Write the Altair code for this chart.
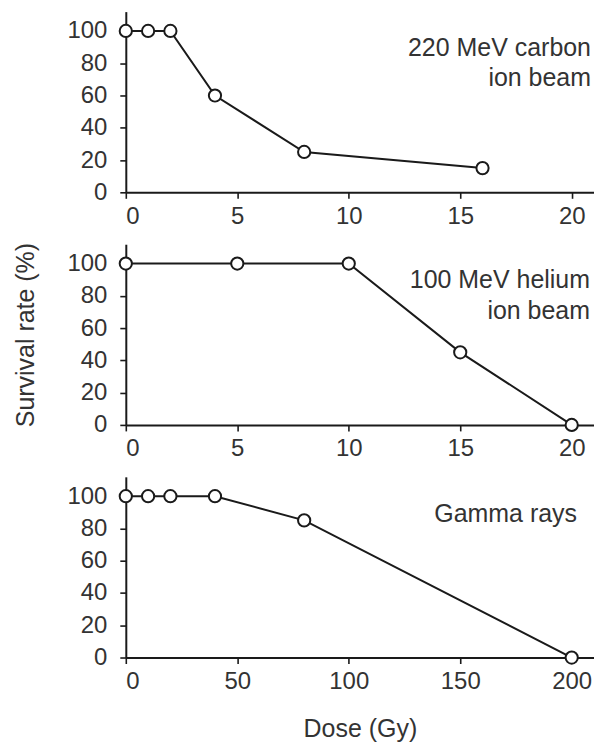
import altair as alt
import pandas as pd

# ---- data ----
carbon_dose = [0, 1, 2, 4, 8, 16]
carbon_surv = [100, 100, 100, 60, 25, 15]
helium_dose = [0, 5, 10, 15, 20]
helium_surv = [100, 100, 100, 45, 0]
gamma_dose = [0, 10, 20, 40, 80, 200]
gamma_surv = [100, 100, 100, 100, 85, 0]

carbon_label = ["220 MeV carbon", "ion beam"]
helium_label = ["100 MeV helium", "ion beam"]
gamma_label = ["Gamma rays"]

x_ticks_ion = [0, 5, 10, 15, 20]
x_ticks_gamma = [0, 50, 100, 150, 200]
y_ticks = [0, 20, 40, 60, 80, 100]

FONT = "Liberation Sans"
W = 469
H = 181
INK = "#1a1a1a"
TXT = "#333333"


def panel(dose, surv, xmax, xticks, label, label_x, label_y, last, ytitle_opacity):
    df = pd.DataFrame({"dose": dose, "surv": surv})
    xaxis = dict(values=xticks, labelPadding=6)
    if last:
        xaxis["titlePadding"] = 23
    x = alt.X("dose:Q", scale=alt.Scale(domain=[0, xmax], nice=False),
              axis=alt.Axis(**xaxis), title="Dose (Gy)" if last else None)
    y = alt.Y("surv:Q", scale=alt.Scale(domain=[0, 112], nice=False),
              axis=alt.Axis(values=y_ticks, labelPadding=13, titleOpacity=ytitle_opacity,
                            titlePadding=28),
              title="Survival rate (%)")
    base = alt.Chart(df).encode(x=x, y=y)
    line = base.mark_line(color=INK, strokeWidth=2)
    pts = base.mark_point(shape="circle", filled=True, fill="white", stroke=INK,
                          strokeWidth=2, size=150, opacity=1)
    txt = alt.Chart(pd.DataFrame({"t": [0]})).mark_text(
        align="right", baseline="alphabetic", font=FONT, fontSize=25, color=TXT,
        lineHeight=31
    ).encode(x=alt.value(label_x), y=alt.value(label_y), text=alt.value(label))
    return alt.layer(line, pts, txt).properties(width=W, height=H)


p1 = panel(carbon_dose, carbon_surv, 21, x_ticks_ion, carbon_label, 466, 44, False, 0)
p2 = panel(helium_dose, helium_surv, 21, x_ticks_ion, helium_label, 465, 44, False, 1)
p3 = panel(gamma_dose, gamma_surv, 210, x_ticks_gamma, gamma_label, 452, 45, True, 0)

chart = alt.vconcat(p1, p2, p3, spacing=14).properties(
    padding={"left": 5, "top": 1, "right": 0, "bottom": 0}
).configure_view(strokeWidth=0).configure_axis(
    grid=False,
    domainColor=INK, domainWidth=2,
    tickColor=INK, tickWidth=1.6, tickSize=6,
    labelFont=FONT, labelFontSize=24, labelColor=TXT,
    titleFont=FONT, titleFontSize=25, titleColor=TXT, titleFontWeight="normal",
)

chart.save("out.html", embed_options={"renderer": "svg", "actions": False})
